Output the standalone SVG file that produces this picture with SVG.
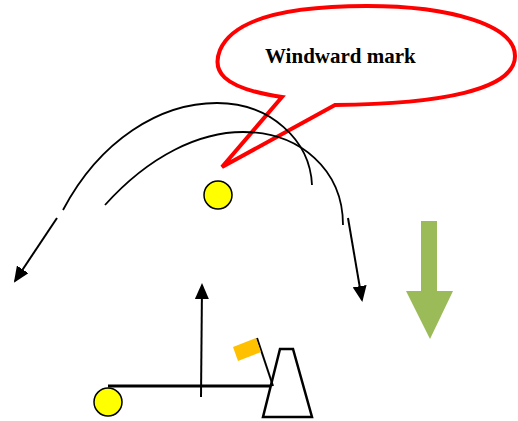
<svg xmlns="http://www.w3.org/2000/svg" width="518" height="421" viewBox="0 0 518 421">
<style>
.ln{fill:none;stroke:#000;stroke-width:1.8}
.arr{fill:none;stroke:#000;stroke-width:2;marker-end:url(#ah)}
.buoy{fill:#FFFF00;stroke:#000;stroke-width:1.5}
.lbl{font-family:"Liberation Serif",serif;font-weight:bold;font-size:21px;fill:#000}
</style>
<defs>
<marker id="ah" markerUnits="userSpaceOnUse" markerWidth="16" markerHeight="14" refX="14" refY="7" orient="auto">
<path d="M0,0 L16,7 L0,14 Z" fill="#000"/>
</marker>
</defs>
<g id="callout">
<path d="M282,97 C220,88 212,70 220,50 C235,15 300,6 367,6 C450,6 515,25 515,56 C515,90 440,104 335,105 L222,167 Z" fill="#fff" stroke="#FF0000" stroke-width="4" stroke-linejoin="miter"/>
<text class="lbl" x="265" y="63">Windward mark</text>
</g>
<g id="connectors">
<path class="ln" d="M63,210 C100,140 160,103 217,103 C270,103 310,140 312,185"/>
<path class="ln" d="M105,205 C150,155 200,132 243,132 C300,132 343,170 343,225"/>
<line class="arr" x1="57" y1="218" x2="15" y2="281"/>
<line class="arr" x1="348" y1="218" x2="362" y2="300"/>
<line class="arr" x1="201" y1="397" x2="202" y2="285"/>
<line x1="108" y1="386" x2="273" y2="386" stroke="#000" stroke-width="3"/>
</g>
<g id="windward-buoy"><circle class="buoy" cx="218" cy="195" r="14"/></g>
<g id="pin-buoy"><circle class="buoy" cx="108" cy="402" r="14"/></g>
<g id="committee-boat">
<path d="M280,349 L293,349 L312,417 L263,417 Z" fill="#fff" stroke="#000" stroke-width="2.5"/>
<line x1="257" y1="338" x2="273" y2="386" stroke="#000" stroke-width="2"/>
<path d="M233,347 L256,338 L261,352 L238,361 Z" fill="#FFC000"/>
</g>
<g id="wind-arrow">
<path d="M421,221 L437,221 L437,291 L453,291 L430,339 L406,291 L421,291 Z" fill="#9BBB59"/>
</g>
</svg>
